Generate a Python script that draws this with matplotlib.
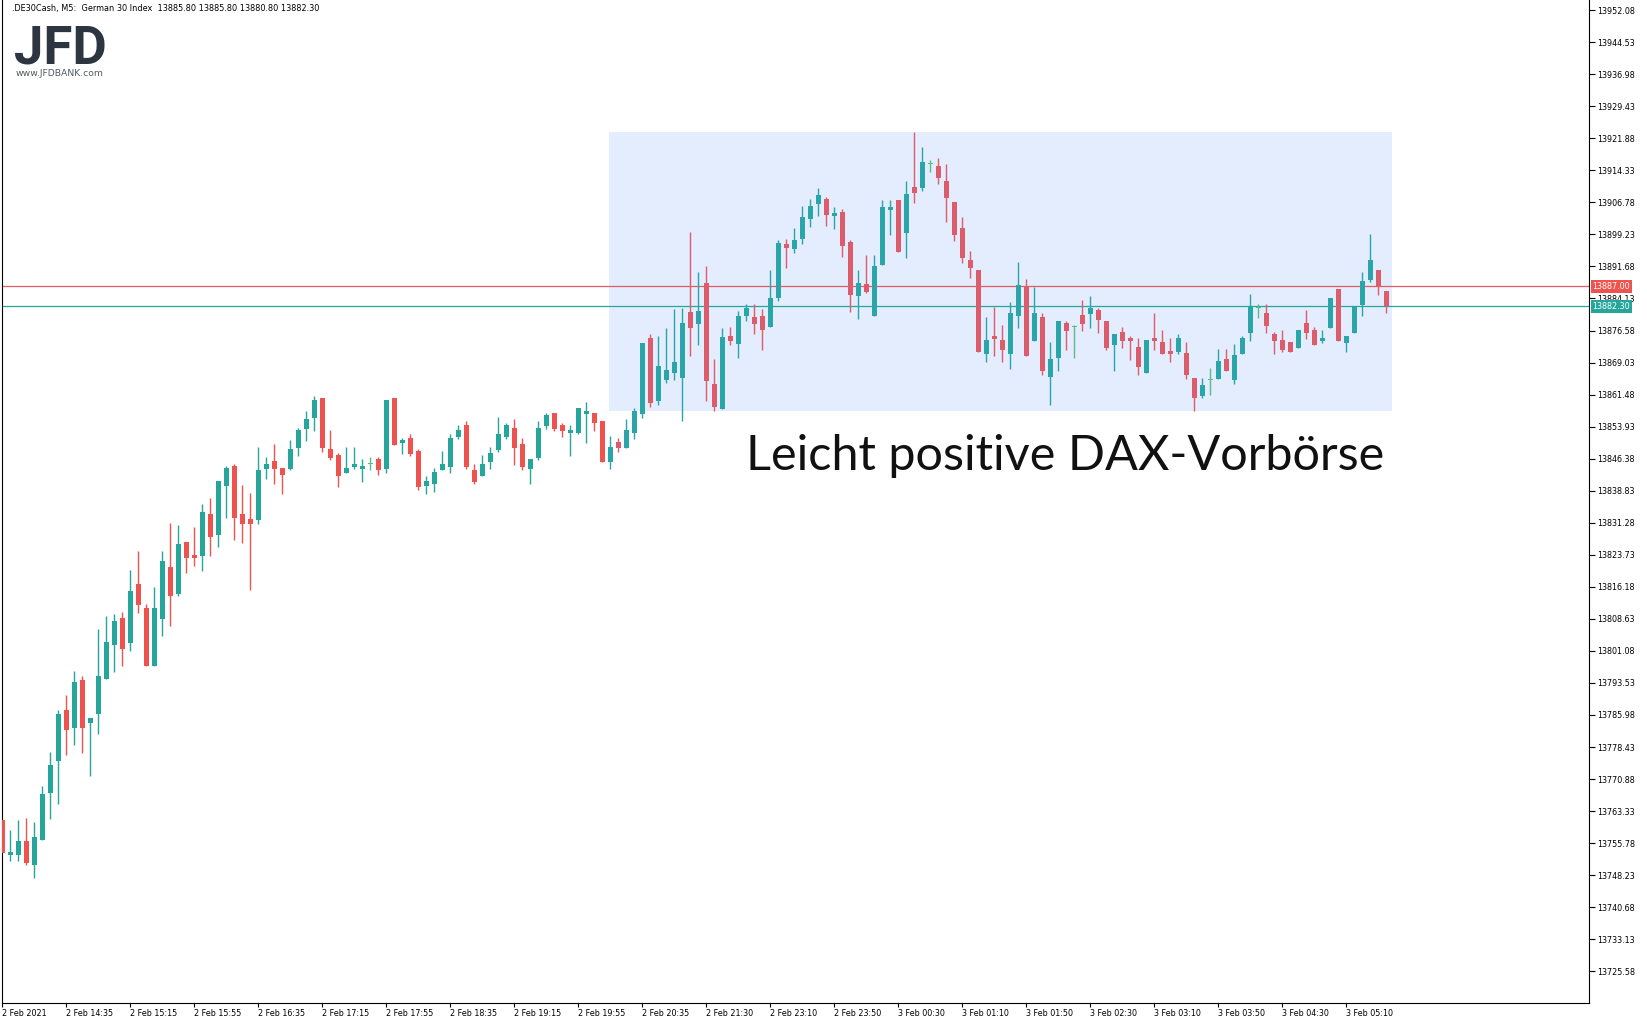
import numpy as np
import matplotlib.pyplot as plt
from matplotlib.patches import Rectangle
from matplotlib.transforms import blended_transform_factory

# DE30 M5 candles (open / high / low / close)
opens = [
    13761.2, 13753.1, 13753.1, 13756.3, 13750.7, 13756.6, 13767.7, 13775.2, 13787.2, 13783.0,
    13794.2, 13784.2, 13786.1, 13794.5, 13802.5, 13808.8, 13803.0, 13816.9, 13811.2, 13797.6,
    13808.7, 13820.9, 13814.6, 13826.7, 13823.7, 13823.5, 13833.3, 13828.5, 13840.0, 13844.7,
    13833.3, 13832.2, 13832.0, 13844.0, 13845.8, 13844.2, 13844.0, 13849.0, 13853.4, 13856.0,
    13860.7, 13848.7, 13847.3, 13843.1, 13844.5, 13844.0, 13845.1, 13846.3, 13844.0, 13860.7,
    13850.1, 13851.2, 13848.2, 13840.0, 13840.5, 13843.6, 13844.5, 13851.6, 13854.3, 13843.7,
    13842.2, 13845.7, 13848.5, 13851.6, 13853.6, 13849.8, 13844.0, 13846.6, 13854.1, 13857.1,
    13854.3, 13852.5, 13852.5, 13857.0, 13857.1, 13855.3, 13845.7, 13850.3, 13849.0, 13852.4,
    13857.0, 13874.8, 13860.0, 13865.0, 13866.6, 13865.5, 13881.0, 13878.2, 13887.8, 13864.0,
    13858.2, 13875.3, 13873.5, 13880.1, 13879.8, 13880.0, 13877.5, 13884.3, 13897.0, 13895.9,
    13898.2, 13902.9, 13906.5, 13907.6, 13903.6, 13904.5, 13897.4, 13884.8, 13887.5, 13880.1,
    13892.1, 13905.0, 13907.3, 13899.6, 13910.4, 13910.2, 13915.8, 13915.4, 13911.8, 13906.9,
    13900.7, 13893.2, 13890.9, 13871.1, 13875.3, 13874.4, 13871.0, 13880.0, 13887.1, 13874.1,
    13879.8, 13865.6, 13870.1, 13878.4, 13877.3, 13880.2, 13880.5, 13881.4, 13878.8, 13873.2,
    13876.2, 13874.8, 13872.7, 13866.6, 13874.8, 13873.9, 13871.8, 13871.5, 13871.3, 13865.4,
    13861.2, 13864.9, 13865.2, 13869.9, 13864.9, 13871.0, 13876.1, 13881.9, 13880.7, 13875.8,
    13874.4, 13873.9, 13872.5, 13878.4, 13876.7, 13874.2, 13877.2, 13886.4, 13873.7, 13876.1,
    13882.7, 13888.5, 13890.9, 13885.8]
highs = [
    13761.2, 13758.9, 13761.2, 13761.7, 13760.8, 13769.3, 13777.3, 13787.2, 13790.7, 13796.4,
    13795.2, 13785.3, 13806.2, 13809.3, 13809.8, 13810.3, 13820.2, 13824.6, 13812.1, 13816.1,
    13824.6, 13831.2, 13830.8, 13826.7, 13830.3, 13835.7, 13837.1, 13841.1, 13844.7, 13845.1,
    13840.2, 13838.3, 13849.1, 13846.8, 13849.8, 13844.2, 13850.8, 13853.6, 13857.6, 13861.2,
    13860.7, 13853.1, 13847.7, 13849.1, 13849.1, 13846.3, 13846.8, 13846.8, 13860.2, 13860.7,
    13851.3, 13852.2, 13848.7, 13842.4, 13844.2, 13848.2, 13852.2, 13854.3, 13855.3, 13845.1,
    13847.3, 13849.1, 13856.2, 13854.8, 13855.7, 13851.2, 13846.3, 13855.3, 13857.1, 13857.1,
    13854.8, 13854.3, 13858.3, 13859.7, 13857.1, 13855.3, 13851.7, 13851.2, 13855.7, 13858.3,
    13873.6, 13875.8, 13875.3, 13877.2, 13881.7, 13881.9, 13899.8, 13890.4, 13891.8, 13869.9,
    13877.2, 13877.4, 13881.2, 13882.8, 13882.8, 13881.7, 13890.9, 13897.9, 13898.1, 13900.7,
    13905.9, 13907.6, 13910.2, 13908.0, 13905.7, 13905.2, 13897.9, 13890.9, 13894.4, 13894.4,
    13907.3, 13907.3, 13907.3, 13911.8, 13923.4, 13919.8, 13916.8, 13917.2, 13915.8, 13906.9,
    13903.3, 13895.4, 13890.9, 13879.8, 13882.2, 13877.9, 13883.3, 13892.7, 13888.7, 13886.8,
    13880.7, 13873.9, 13878.8, 13878.8, 13877.9, 13883.8, 13884.7, 13881.9, 13878.8, 13875.8,
    13877.4, 13875.3, 13874.8, 13874.4, 13880.7, 13876.7, 13874.8, 13875.8, 13873.9, 13865.4,
    13865.4, 13867.7, 13872.2, 13872.2, 13873.4, 13875.3, 13885.2, 13882.8, 13882.8, 13876.2,
    13876.7, 13873.9, 13876.7, 13881.4, 13877.4, 13876.7, 13884.3, 13886.4, 13875.3, 13882.2,
    13890.4, 13899.3, 13890.9, 13885.8]
lows = [
    13753.5, 13751.6, 13751.6, 13750.7, 13747.6, 13756.6, 13761.5, 13765.1, 13776.6, 13779.0,
    13777.1, 13771.7, 13781.6, 13794.5, 13796.2, 13797.6, 13801.1, 13810.1, 13797.6, 13797.6,
    13804.7, 13807.0, 13814.1, 13819.5, 13821.1, 13819.9, 13823.5, 13825.6, 13832.5, 13827.1,
    13826.6, 13815.4, 13831.1, 13841.7, 13840.5, 13838.1, 13843.6, 13847.1, 13850.6, 13853.0,
    13848.0, 13846.1, 13839.6, 13843.1, 13844.0, 13841.0, 13843.6, 13842.6, 13843.1, 13849.6,
    13847.6, 13847.1, 13839.1, 13838.1, 13838.6, 13843.6, 13843.0, 13851.1, 13844.0, 13840.5,
    13842.2, 13844.0, 13848.0, 13851.1, 13845.0, 13843.6, 13840.5, 13846.1, 13853.4, 13853.0,
    13851.6, 13847.1, 13852.1, 13850.1, 13853.0, 13845.7, 13844.0, 13848.0, 13849.0, 13851.0,
    13856.0, 13858.6, 13859.1, 13864.1, 13865.0, 13855.3, 13870.6, 13873.2, 13860.0, 13857.7,
    13858.2, 13873.2, 13870.2, 13878.9, 13875.8, 13872.1, 13877.5, 13883.6, 13891.4, 13894.9,
    13897.0, 13901.0, 13903.6, 13901.3, 13900.6, 13894.0, 13881.0, 13879.4, 13885.5, 13880.1,
    13892.1, 13899.2, 13895.1, 13893.7, 13906.7, 13909.5, 13913.9, 13911.2, 13902.2, 13897.7,
    13892.6, 13889.0, 13871.6, 13869.2, 13870.6, 13869.2, 13867.6, 13877.2, 13870.6, 13874.1,
    13866.1, 13859.0, 13867.1, 13872.0, 13870.1, 13876.5, 13877.2, 13876.0, 13872.0, 13867.1,
    13872.5, 13869.6, 13866.1, 13866.6, 13872.0, 13871.0, 13869.2, 13871.0, 13865.2, 13857.6,
    13860.7, 13861.4, 13865.2, 13867.1, 13864.0, 13871.0, 13874.2, 13879.6, 13876.1, 13871.1,
    13871.6, 13871.6, 13872.5, 13874.7, 13873.2, 13873.7, 13877.2, 13874.2, 13871.6, 13876.1,
    13880.1, 13888.1, 13885.0, 13880.8]
closes = [
    13753.5, 13753.7, 13756.3, 13751.2, 13757.2, 13767.4, 13774.2, 13786.2, 13782.5, 13793.8,
    13783.0, 13785.3, 13795.2, 13803.2, 13808.1, 13801.6, 13815.2, 13812.0, 13797.6, 13811.2,
    13822.3, 13814.1, 13826.3, 13823.0, 13823.0, 13833.8, 13828.0, 13841.1, 13844.2, 13832.5,
    13831.1, 13831.1, 13843.7, 13845.1, 13844.0, 13842.6, 13848.7, 13853.1, 13855.7, 13860.2,
    13849.0, 13846.5, 13842.2, 13844.2, 13845.1, 13844.7, 13845.1, 13843.6, 13860.2, 13849.6,
    13850.8, 13847.6, 13839.6, 13841.1, 13843.2, 13845.1, 13851.2, 13853.1, 13844.5, 13841.0,
    13845.1, 13847.7, 13852.2, 13854.3, 13849.0, 13844.5, 13846.3, 13853.6, 13856.7, 13853.4,
    13853.0, 13853.1, 13858.3, 13857.6, 13854.7, 13845.7, 13849.1, 13849.0, 13853.1, 13857.6,
    13873.6, 13859.6, 13868.2, 13867.3, 13869.2, 13878.4, 13877.2, 13881.2, 13864.8, 13858.6,
    13875.1, 13874.2, 13880.0, 13881.9, 13878.2, 13876.8, 13884.3, 13897.2, 13896.1, 13897.9,
    13903.3, 13905.9, 13908.5, 13903.9, 13904.3, 13896.6, 13885.0, 13887.8, 13885.7, 13891.8,
    13905.7, 13905.7, 13895.1, 13908.8, 13909.1, 13916.3, 13915.8, 13912.6, 13907.7, 13899.2,
    13893.7, 13891.2, 13871.6, 13874.4, 13874.7, 13872.1, 13880.7, 13887.3, 13870.6, 13880.7,
    13867.1, 13869.9, 13878.8, 13876.5, 13877.3, 13878.1, 13881.9, 13879.1, 13872.5, 13875.8,
    13874.1, 13874.1, 13868.0, 13874.4, 13874.1, 13871.0, 13871.0, 13874.8, 13866.1, 13860.7,
    13863.8, 13864.9, 13869.4, 13867.1, 13870.8, 13874.8, 13882.2, 13881.9, 13877.7, 13874.2,
    13872.1, 13871.6, 13876.7, 13876.1, 13873.2, 13874.8, 13884.3, 13874.2, 13875.3, 13882.2,
    13888.3, 13893.2, 13887.1, 13882.3]

time_labels = ["2 Feb 2021", "2 Feb 14:35", "2 Feb 15:15", "2 Feb 15:55", "2 Feb 16:35",
               "2 Feb 17:15", "2 Feb 17:55", "2 Feb 18:35", "2 Feb 19:15", "2 Feb 19:55",
               "2 Feb 20:35", "2 Feb 21:30", "2 Feb 23:10", "2 Feb 23:50", "3 Feb 00:30",
               "3 Feb 01:10", "3 Feb 01:50", "3 Feb 02:30", "3 Feb 03:10", "3 Feb 03:50",
               "3 Feb 04:30", "3 Feb 05:10"]
LABEL_EVERY = 8

ASK, BID = 13887.00, 13882.30
# highlighted range (bar index span, price span)
BOX_X = (75.85, 173.75)
BOX_Y = (13857.6, 13923.3)

HEADER = ".DE30Cash, M5:  German 30 Index  13885.80 13885.80 13880.80 13882.30"
TITLE = "Leicht positive DAX-Vorbörse"

# ---- candles
x = np.arange(len(opens))
o, h, l, c = (np.array(v) for v in (opens, highs, lows, closes))
inside = x >= BOX_X[0]
up_col = np.where(inside, '#2aa5aa', '#26a69a')
dn_col = np.where(inside, '#dc5c6b', '#ef5350')
colors = np.where(c > o, up_col, dn_col)
colors = np.where(c == o, '#5cb98a', colors)

fig = plt.figure(figsize=(16.47, 10.24), dpi=100)
ax = fig.add_axes([0.0014, 0.0208, 0.9632, 0.9792])

ax.add_patch(Rectangle((BOX_X[0], BOX_Y[0]), BOX_X[1] - BOX_X[0], BOX_Y[1] - BOX_Y[0],
                       facecolor='#e4edfd', edgecolor='none', zorder=0))
ax.axhline(ASK, color='#e25c64', lw=0.9, zorder=1)
ax.axhline(BID, color='#26a69a', lw=0.9, zorder=1)

ax.vlines(x, l, h, colors=colors, lw=1.0, zorder=2)
ax.bar(x, np.maximum(np.abs(c - o), 0.25), bottom=np.minimum(o, c), width=0.625,
       color=colors, linewidth=0, zorder=3)

ax.set_xlim(0, 198.3)
ax.set_ylim(13718.18, 13954.47)

# ---- axes styling (MT5 look)
for side in ('left', 'bottom', 'right'):
    ax.spines[side].set_linewidth(0.8)
    ax.spines[side].set_color('black')
ax.spines['top'].set_visible(False)

yt = np.round(13725.58 + 7.55 * np.arange(31), 2)
ax.yaxis.tick_right()
ax.set_yticks(yt)
ax.set_yticklabels([f"{v:.2f}" for v in yt])
ax.tick_params(axis='y', direction='out', length=4, width=0.8, pad=2, labelsize=5.8)

ax.set_xticks(np.arange(len(time_labels)) * LABEL_EVERY)
ax.set_xticklabels(time_labels, ha='left')
ax.tick_params(axis='x', direction='out', length=3, width=0.8, pad=1.5, labelsize=5.8)

tr = blended_transform_factory(ax.transAxes, ax.transData)
for val, col in ((ASK, '#ef5350'), (BID, '#26a69a')):
    ax.text(1.0024, val, f"{val:.2f}", transform=tr, ha='left', va='center',
            color='white', fontsize=5.8, clip_on=False, zorder=10,
            bbox=dict(boxstyle='square,pad=0.22', fc=col, ec='none'))

# ---- texts
fig.text(12 / 1647, 1 - 9 / 1024, HEADER, fontsize=5.9, va='center', ha='left')
fig.text(14 / 1647, 1 - 63 / 1024, "JFD", fontsize=38, fontweight='bold', family='Roboto',
         color='#2d3640', va='baseline', ha='left')
fig.text(16 / 1647, 1 - 73.5 / 1024, "www.JFDBANK.com", fontsize=6.7,
         color='#555a60', va='center', ha='left')
fig.text(746 / 1647, 1 - 469.5 / 1024, TITLE, fontsize=35, family='Lato',
         color='#111111', va='baseline', ha='left')

fig.savefig("out.png", dpi=100)
